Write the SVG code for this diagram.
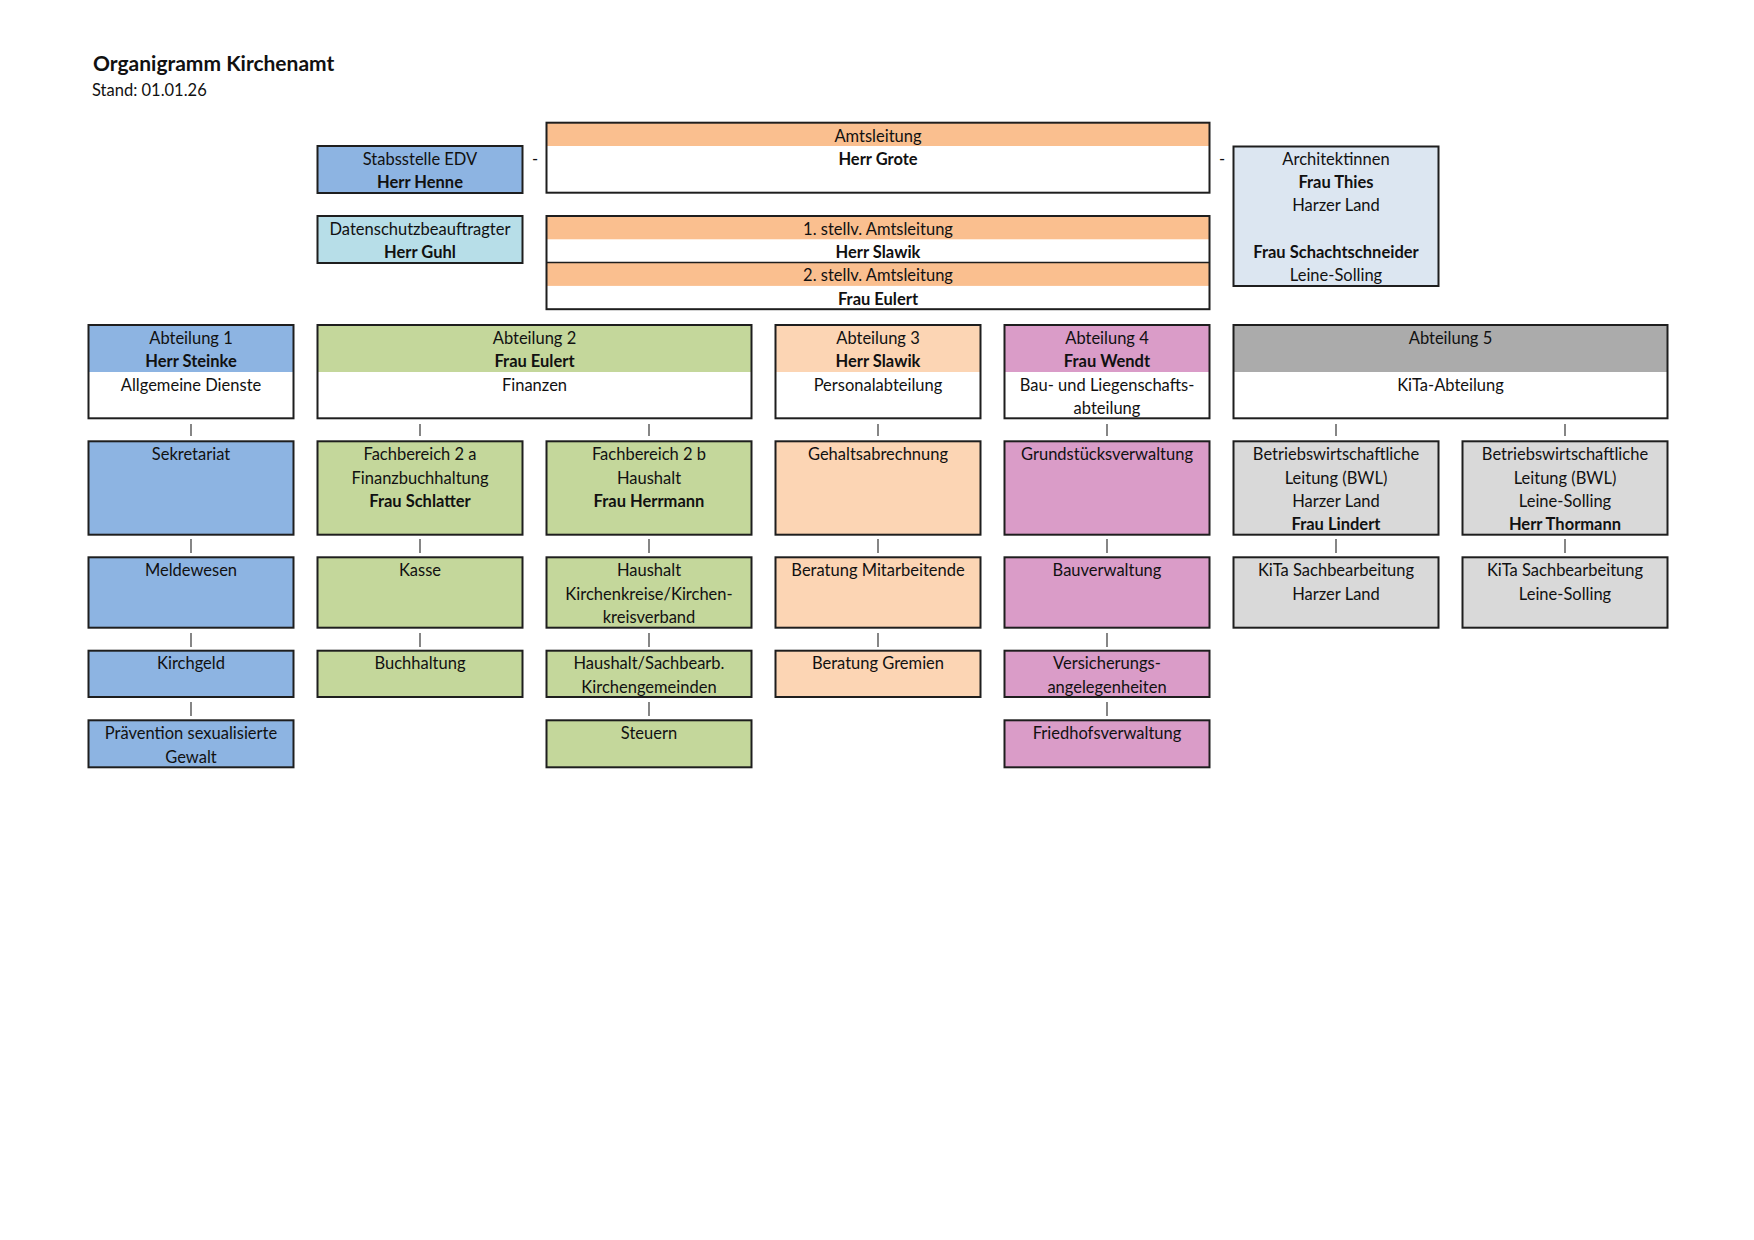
<svg xmlns="http://www.w3.org/2000/svg" width="1754" height="1240" viewBox="0 0 1754 1240">
<style>
text{font-family:Lato,"Liberation Sans",sans-serif;font-size:16.5px;fill:#111;text-anchor:middle;transform:translateY(1px)}
.b{font-weight:bold}
.title{font-size:21px;font-weight:bold;text-anchor:start}
.sub{text-anchor:start}
.box{fill:none;stroke:#1e1e1e;stroke-width:2}
.blue{fill:#8DB4E2}.cyan{fill:#B7DEE8}.or{fill:#FABF8F}.lor{fill:#FCD5B4}.gr{fill:#C4D79B}.pk{fill:#DA9CC8}.dg{fill:#ABABAB}.lg{fill:#D9D9D9}.lb{fill:#DCE6F1}.wh{fill:#fff}
.con line{stroke:#444;stroke-width:1.3}
</style>
<rect width="1754" height="1240" fill="#fff"/>
<g id="header">
<text class="title" x="93" y="70">Organigramm Kirchenamt</text>
<text class="sub" x="92" y="95">Stand: 01.01.26</text>
</g>
<g id="connectors" class="con">
<line x1="191" y1="424" x2="191" y2="436"/><line x1="420" y1="424" x2="420" y2="436"/><line x1="649" y1="424" x2="649" y2="436"/><line x1="878" y1="424" x2="878" y2="436"/><line x1="1107" y1="424" x2="1107" y2="436"/><line x1="1336" y1="424" x2="1336" y2="436"/><line x1="1565" y1="424" x2="1565" y2="436"/>
<line x1="191" y1="539" x2="191" y2="553"/><line x1="420" y1="539" x2="420" y2="553"/><line x1="649" y1="539" x2="649" y2="553"/><line x1="878" y1="539" x2="878" y2="553"/><line x1="1107" y1="539" x2="1107" y2="553"/><line x1="1336" y1="539" x2="1336" y2="553"/><line x1="1565" y1="539" x2="1565" y2="553"/>
<line x1="191" y1="633" x2="191" y2="647"/><line x1="420" y1="633" x2="420" y2="647"/><line x1="649" y1="633" x2="649" y2="647"/><line x1="878" y1="633" x2="878" y2="647"/><line x1="1107" y1="633" x2="1107" y2="647"/>
<line x1="191" y1="702" x2="191" y2="716"/><line x1="649" y1="702" x2="649" y2="716"/><line x1="1107" y1="702" x2="1107" y2="716"/>
<text x="535" y="164">-</text>
<text x="1222" y="164">-</text>
</g>
<g id="stabsstelle">
<rect class="blue" x="317.5" y="146" width="205" height="47"/><rect class="box" x="317.5" y="146" width="205" height="47"/>
<text x="420" y="164">Stabsstelle EDV</text><text class="b" x="420" y="187">Herr Henne</text>
</g>
<g id="datenschutz">
<rect class="cyan" x="317.5" y="216" width="205" height="47"/><rect class="box" x="317.5" y="216" width="205" height="47"/>
<text x="420" y="234">Datenschutzbeauftragter</text><text class="b" x="420" y="257">Herr Guhl</text>
</g>
<g id="amtsleitung">
<rect class="wh" x="546.5" y="122.7" width="663" height="70"/><rect class="or" x="546.5" y="122.7" width="663" height="23.3"/><rect class="box" x="546.5" y="122.7" width="663" height="70"/>
<text x="878" y="141">Amtsleitung</text><text class="b" x="878" y="164">Herr Grote</text>
</g>
<g id="stellv">
<rect class="wh" x="546.5" y="216" width="663" height="93.2"/><rect class="or" x="546.5" y="216" width="663" height="23.3"/><rect class="or" x="546.5" y="262.6" width="663" height="23.3"/>
<line x1="546.5" y1="262.6" x2="1209.5" y2="262.6" stroke="#1e1e1e" stroke-width="1.5"/>
<rect class="box" x="546.5" y="216" width="663" height="93.2"/>
<text x="878" y="234">1. stellv. Amtsleitung</text><text class="b" x="878" y="257">Herr Slawik</text>
<text x="878" y="280">2. stellv. Amtsleitung</text><text class="b" x="878" y="304">Frau Eulert</text>
</g>
<g id="architektinnen">
<rect class="lb" x="1233.5" y="146.5" width="205" height="139.5"/><rect class="box" x="1233.5" y="146.5" width="205" height="139.5"/>
<text x="1336" y="164">Architektinnen</text><text class="b" x="1336" y="187">Frau Thies</text><text x="1336" y="210">Harzer Land</text>
<text class="b" x="1336" y="257">Frau Schachtschneider</text><text x="1336" y="280">Leine-Solling</text>
</g>
<g id="abt1">
<rect class="wh" x="88.5" y="325" width="205" height="93.3"/><rect class="blue" x="88.5" y="325" width="205" height="47"/><rect class="box" x="88.5" y="325" width="205" height="93.3"/>
<text x="191" y="343">Abteilung 1</text><text class="b" x="191" y="366">Herr Steinke</text><text x="191" y="390">Allgemeine Dienste</text>
</g>
<g id="abt2">
<rect class="wh" x="317.5" y="325" width="434" height="93.3"/><rect class="gr" x="317.5" y="325" width="434" height="47"/><rect class="box" x="317.5" y="325" width="434" height="93.3"/>
<text x="534.5" y="343">Abteilung 2</text><text class="b" x="534.5" y="366">Frau Eulert</text><text x="534.5" y="390">Finanzen</text>
</g>
<g id="abt3">
<rect class="wh" x="775.5" y="325" width="205" height="93.3"/><rect class="lor" x="775.5" y="325" width="205" height="47"/><rect class="box" x="775.5" y="325" width="205" height="93.3"/>
<text x="878" y="343">Abteilung 3</text><text class="b" x="878" y="366">Herr Slawik</text><text x="878" y="390">Personalabteilung</text>
</g>
<g id="abt4">
<rect class="wh" x="1004.5" y="325" width="205" height="93.3"/><rect class="pk" x="1004.5" y="325" width="205" height="47"/><rect class="box" x="1004.5" y="325" width="205" height="93.3"/>
<text x="1107" y="343">Abteilung 4</text><text class="b" x="1107" y="366">Frau Wendt</text><text x="1107" y="390">Bau- und Liegenschafts-</text><text x="1107" y="413">abteilung</text>
</g>
<g id="abt5">
<rect class="wh" x="1233.5" y="325" width="434" height="93.3"/><rect class="dg" x="1233.5" y="325" width="434" height="47"/><rect class="box" x="1233.5" y="325" width="434" height="93.3"/>
<text x="1450.5" y="343">Abteilung 5</text><text x="1450.5" y="390">KiTa-Abteilung</text>
</g>
<g id="sekretariat">
<rect class="box" x="88.5" y="441.3" width="205" height="93.4" style="fill:#8DB4E2"/>
<text x="191" y="459">Sekretariat</text>
</g>
<g id="fb2a">
<rect class="box" x="317.5" y="441.3" width="205" height="93.4" style="fill:#C4D79B"/>
<text x="420" y="459">Fachbereich 2 a</text><text x="420" y="483">Finanzbuchhaltung</text><text class="b" x="420" y="506">Frau Schlatter</text>
</g>
<g id="fb2b">
<rect class="box" x="546.5" y="441.3" width="205" height="93.4" style="fill:#C4D79B"/>
<text x="649" y="459">Fachbereich 2 b</text><text x="649" y="483">Haushalt</text><text class="b" x="649" y="506">Frau Herrmann</text>
</g>
<g id="gehalt">
<rect class="box" x="775.5" y="441.3" width="205" height="93.4" style="fill:#FCD5B4"/>
<text x="878" y="459">Gehaltsabrechnung</text>
</g>
<g id="grundstueck">
<rect class="box" x="1004.5" y="441.3" width="205" height="93.4" style="fill:#DA9CC8"/>
<text x="1107" y="459">Grundstücksverwaltung</text>
</g>
<g id="bwl-hl">
<rect class="box" x="1233.5" y="441.3" width="205" height="93.4" style="fill:#D9D9D9"/>
<text x="1336" y="459">Betriebswirtschaftliche</text><text x="1336" y="483">Leitung (BWL)</text><text x="1336" y="506">Harzer Land</text><text class="b" x="1336" y="529">Frau Lindert</text>
</g>
<g id="bwl-ls">
<rect class="box" x="1462.5" y="441.3" width="205" height="93.4" style="fill:#D9D9D9"/>
<text x="1565" y="459">Betriebswirtschaftliche</text><text x="1565" y="483">Leitung (BWL)</text><text x="1565" y="506">Leine-Solling</text><text class="b" x="1565" y="529">Herr Thormann</text>
</g>
<g id="meldewesen">
<rect class="box" x="88.5" y="557.3" width="205" height="70.4" style="fill:#8DB4E2"/>
<text x="191" y="575">Meldewesen</text>
</g>
<g id="kasse">
<rect class="box" x="317.5" y="557.3" width="205" height="70.4" style="fill:#C4D79B"/>
<text x="420" y="575">Kasse</text>
</g>
<g id="haushalt-kk">
<rect class="box" x="546.5" y="557.3" width="205" height="70.4" style="fill:#C4D79B"/>
<text x="649" y="575">Haushalt</text><text x="649" y="599">Kirchenkreise/Kirchen-</text><text x="649" y="622">kreisverband</text>
</g>
<g id="beratung-ma">
<rect class="box" x="775.5" y="557.3" width="205" height="70.4" style="fill:#FCD5B4"/>
<text x="878" y="575">Beratung Mitarbeitende</text>
</g>
<g id="bauverwaltung">
<rect class="box" x="1004.5" y="557.3" width="205" height="70.4" style="fill:#DA9CC8"/>
<text x="1107" y="575">Bauverwaltung</text>
</g>
<g id="kita-hl">
<rect class="box" x="1233.5" y="557.3" width="205" height="70.4" style="fill:#D9D9D9"/>
<text x="1336" y="575">KiTa Sachbearbeitung</text><text x="1336" y="599">Harzer Land</text>
</g>
<g id="kita-ls">
<rect class="box" x="1462.5" y="557.3" width="205" height="70.4" style="fill:#D9D9D9"/>
<text x="1565" y="575">KiTa Sachbearbeitung</text><text x="1565" y="599">Leine-Solling</text>
</g>
<g id="kirchgeld">
<rect class="box" x="88.5" y="650.7" width="205" height="46.3" style="fill:#8DB4E2"/>
<text x="191" y="668">Kirchgeld</text>
</g>
<g id="buchhaltung">
<rect class="box" x="317.5" y="650.7" width="205" height="46.3" style="fill:#C4D79B"/>
<text x="420" y="668">Buchhaltung</text>
</g>
<g id="haushalt-kg">
<rect class="box" x="546.5" y="650.7" width="205" height="46.3" style="fill:#C4D79B"/>
<text x="649" y="668">Haushalt/Sachbearb.</text><text x="649" y="692">Kirchengemeinden</text>
</g>
<g id="beratung-gr">
<rect class="box" x="775.5" y="650.7" width="205" height="46.3" style="fill:#FCD5B4"/>
<text x="878" y="668">Beratung Gremien</text>
</g>
<g id="versicherung">
<rect class="box" x="1004.5" y="650.7" width="205" height="46.3" style="fill:#DA9CC8"/>
<text x="1107" y="668">Versicherungs-</text><text x="1107" y="692">angelegenheiten</text>
</g>
<g id="praevention">
<rect class="box" x="88.5" y="720.3" width="205" height="47" style="fill:#8DB4E2"/>
<text x="191" y="738">Prävention sexualisierte</text><text x="191" y="762">Gewalt</text>
</g>
<g id="steuern">
<rect class="box" x="546.5" y="720.3" width="205" height="47" style="fill:#C4D79B"/>
<text x="649" y="738">Steuern</text>
</g>
<g id="friedhof">
<rect class="box" x="1004.5" y="720.3" width="205" height="47" style="fill:#DA9CC8"/>
<text x="1107" y="738">Friedhofsverwaltung</text>
</g>
</svg>
